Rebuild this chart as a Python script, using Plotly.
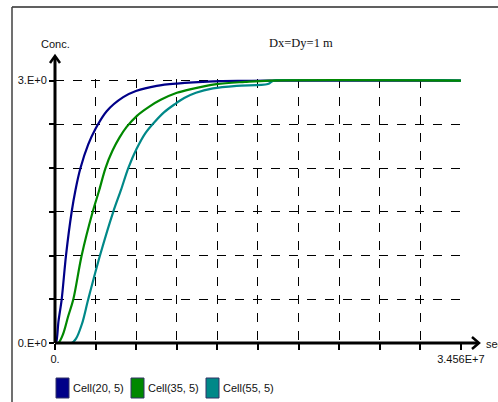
import plotly.graph_objects as go

# ---------------- data ----------------
T_MAX = 3.456e7
Y_MAX = 3.0

names = ["Cell(20, 5)", "Cell(35, 5)", "Cell(55, 5)"]
colors = ["#000088", "#008800", "#008888"]

# times in seconds, concentrations
t_blue = [0, 0.085e6, 0.298e6, 0.570e6, 0.936e6, 1.42e6, 1.745e6, 2.17e6, 2.83e6,
          3.45e6, 4.40e6, 5.81e6, 6.89e6, 8.66e6, 10.38e6, 13.45e6, 16.17e6,
          18.13e6, 34.56e6]
c_blue = [0, 0, 0.25, 0.5, 1.0, 1.5, 1.75, 2.0, 2.27,
          2.45, 2.65, 2.81, 2.88, 2.94, 2.966, 2.99, 2.997,
          3.0, 3.0]

t_green = [0, 0.28e6, 0.68e6, 1.11e6, 1.56e6, 2.27e6, 3.21e6, 3.75e6, 4.30e6,
           4.90e6, 5.50e6, 6.10e6, 7.00e6, 8.00e6, 9.00e6, 10.38e6, 11.49e6,
           13.76e6, 16.17e6, 18.30e6, 34.56e6]
c_green = [0, 0, 0.1, 0.3, 0.5, 1.0, 1.5, 1.74, 2.0,
           2.2, 2.35, 2.47, 2.6, 2.7, 2.78, 2.86, 2.90,
           2.96, 2.985, 3.0, 3.0]

t_teal = [0, 1.42e6, 1.79e6, 2.30e6, 2.83e6, 3.83e6, 4.96e6, 5.62e6, 6.24e6,
          6.95e6, 7.70e6, 8.50e6, 9.30e6, 10.2e6, 11.0e6, 12.0e6, 13.45e6,
          15.47e6, 18.13e6, 18.64e6, 34.56e6]
c_teal = [0, 0, 0.05, 0.22, 0.5, 1.0, 1.5, 1.75, 2.0,
          2.22, 2.4, 2.53, 2.64, 2.73, 2.8, 2.86, 2.91,
          2.94, 2.96, 3.0, 3.0]

series_t = [t_blue, t_green, t_teal]
series_c = [c_blue, c_green, c_teal]

x_ticks = [T_MAX * i / 10 for i in range(11)]
x_ticktext = ["0."] + [""] * 9 + ["3.456E+7"]
y_ticks = [Y_MAX * i / 6 for i in range(7)]
y_ticktext = ["0.E+0"] + [""] * 5 + ["3.E+0"]

title_text = "Dx=Dy=1 m"
y_label = "Conc."
x_label = "sec"

# ---------------- layout geometry ----------------
W, H = 498, 402
L, R, T, B = 55, 461, 79, 343


def px(x):
    return (x - L) / (R - L)


def py(y):
    return (B - y) / (B - T)


FONT = "Liberation Sans, Arial, sans-serif"
FS = 11

fig = go.Figure()
draw_order = [0, 2, 1]
for i in draw_order:
    fig.add_trace(go.Scatter(
        x=series_t[i], y=series_c[i], mode="lines", name=names[i],
        line=dict(color=colors[i], width=2.2, shape="spline", smoothing=0.9),
        showlegend=False, hoverinfo="skip"))

shapes = []
# frame
shapes.append(dict(type="line", xref="paper", yref="paper", x0=px(12), x1=px(498),
                   y0=py(7), y1=py(7), line=dict(color="#606060", width=2)))
shapes.append(dict(type="line", xref="paper", yref="paper", x0=px(12), x1=px(12),
                   y0=py(7), y1=py(402), line=dict(color="#404040", width=1.5)))
# axis lines with extensions
shapes.append(dict(type="line", xref="paper", yref="paper", x0=px(55), x1=px(478),
                   y0=0, y1=0, line=dict(color="black", width=3)))
shapes.append(dict(type="line", xref="paper", yref="paper", x0=0, x1=0,
                   y0=0, y1=py(57), line=dict(color="black", width=3)))
# arrowheads
shapes.append(dict(type="path", xref="paper", yref="paper",
                   path=f"M {px(472)} {py(337)} L {px(479)} {py(343)} L {px(472)} {py(349)}",
                   line=dict(color="black", width=2.5)))
shapes.append(dict(type="path", xref="paper", yref="paper",
                   path=f"M {px(50)} {py(63)} L {px(55)} {py(56)} L {px(60)} {py(63)}",
                   line=dict(color="black", width=2.5)))

annotations = [
    dict(text=title_text, x=px(301), y=py(43), xref="paper", yref="paper",
         showarrow=False, xanchor="center", yanchor="middle",
         font=dict(family="Liberation Serif, Times New Roman, serif", size=12.5, color="#111")),
    dict(text=y_label, x=px(55), y=py(44), xref="paper", yref="paper",
         showarrow=False, xanchor="center", yanchor="middle",
         font=dict(family=FONT, size=FS, color="#111")),
    dict(text=x_label, x=px(484), y=py(344), xref="paper", yref="paper",
         showarrow=False, xanchor="left", yanchor="middle",
         font=dict(family=FONT, size=FS, color="#111")),
]

# manual legend
for i, name in enumerate(names):
    x0 = 56 + i * 75
    shapes.append(dict(type="rect", xref="paper", yref="paper",
                       x0=px(x0), x1=px(x0 + 13), y0=py(378), y1=py(398),
                       fillcolor=colors[i], line=dict(color="#333366", width=1)))
    annotations.append(dict(text=name, x=px(x0 + 15), y=py(388), xref="paper", yref="paper",
                            showarrow=False, xanchor="left", yanchor="middle",
                            font=dict(family=FONT, size=FS, color="#111")))

fig.update_layout(
    width=W, height=H, autosize=False,
    margin=dict(l=L, r=W - R, t=T, b=H - B, pad=0),
    paper_bgcolor="white", plot_bgcolor="white",
    showlegend=False,
    shapes=shapes, annotations=annotations,
    xaxis=dict(range=[0, T_MAX * 1.0003], tickvals=x_ticks, ticktext=x_ticktext,
               showgrid=True, gridcolor="black", gridwidth=1, griddash="dash",
               zeroline=False, showline=False, ticks="outside", ticklen=6,
               tickwidth=2, tickcolor="black",
               tickfont=dict(family=FONT, size=FS, color="#111"), fixedrange=True),
    yaxis=dict(range=[0, Y_MAX * 1.006], tickvals=y_ticks, ticktext=y_ticktext,
               showgrid=True, gridcolor="black", gridwidth=1, griddash="dash",
               zeroline=False, showline=False, ticks="outside", ticklen=5,
               tickwidth=2, tickcolor="black",
               tickfont=dict(family=FONT, size=FS, color="#111"), fixedrange=True),
)

fig.write_html("out.html", config={"displayModeBar": False},
               post_script="document.body.style.margin='0';document.body.style.overflow='hidden';")
